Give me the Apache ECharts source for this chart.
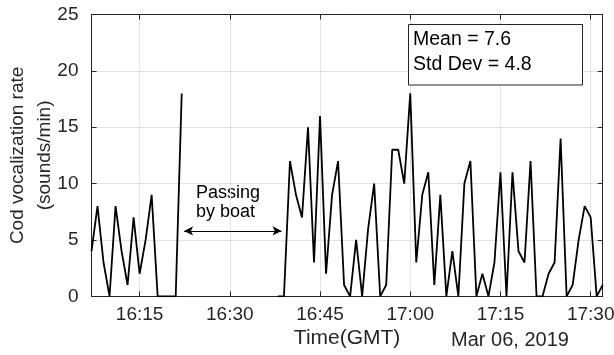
<!DOCTYPE html>
<html>
<head>
<meta charset="utf-8">
<script src="https://cdn.jsdelivr.net/npm/echarts@6/dist/echarts.min.js"></script>
<style>
  html, body { margin: 0; padding: 0; background: #ffffff; }
  #chart { width: 614px; height: 355px; }
</style>
</head>
<body>
<div id="chart"></div>
<script>
// Cod vocalization rate per minute, 6 March 2019 (GMT)
const timesBefore = ['16:07','16:08','16:09','16:10','16:11','16:12','16:13','16:14',
  '16:15','16:16','16:17','16:18','16:19','16:20','16:21','16:22'];
const ratesBefore = [4, 8, 3, 0, 8, 4, 1, 7, 2, 5, 9, 0, 0, 0, 0, 18];

const timesAfter = ['16:38','16:39','16:40','16:41','16:42','16:43','16:44','16:45',
  '16:46','16:47','16:48','16:49','16:50','16:51','16:52','16:53','16:54','16:55',
  '16:56','16:57','16:58','16:59','17:00','17:01','17:02','17:03','17:04','17:05',
  '17:06','17:07','17:08','17:09','17:10','17:11','17:12','17:13','17:14','17:15',
  '17:16','17:17','17:18','17:19','17:20','17:21','17:22','17:23','17:24','17:25',
  '17:26','17:27','17:28','17:29','17:30','17:31','17:32'];
const ratesAfter = [0, 0, 12, 9, 7, 15, 3, 16, 2, 9, 12, 1, 0, 5, 0, 6, 10, 0,
  1, 13, 13, 10, 18, 3, 9, 11, 1, 9, 0, 4, 0, 10, 12, 0, 2, 0, 3, 11,
  0, 11, 4, 3, 12, 0, 0, 2, 3, 14, 0, 1, 5, 8, 7, 0, 1];

const xTickLabels = ['16:15', '16:30', '16:45', '17:00', '17:15', '17:30'];
const yTicks = [0, 5, 10, 15, 20, 25];
const xRange = ['16:07', '17:32'];

// Period when a boat passed (no recording), shown as a double arrow
const boatSpan = ['16:22.4', '16:38.6'];
const boatLevel = 5.8;

const statsText = ['Mean = 7.6', 'Std Dev = 4.8'];
const dateText = 'Mar 06, 2019';

// "HH:MM" -> minutes after midnight
function toMin(t) {
  const p = t.split(':');
  return parseInt(p[0], 10) * 60 + parseFloat(p[1]);
}
function fmt(m) {
  const h = Math.floor(m / 60), mm = Math.round(m - h * 60);
  return h + ':' + (mm < 10 ? '0' : '') + mm;
}

// one continuous line with a break for the missing period
const lineData = timesBefore.map((t, i) => [toMin(t), ratesBefore[i]])
  .concat([[ (toMin(timesBefore[timesBefore.length - 1]) + toMin(timesAfter[0])) / 2, null ]])
  .concat(timesAfter.map((t, i) => [toMin(t), ratesAfter[i]]));

const xTickVals = xTickLabels.map(toMin);
const FONT = '"Liberation Sans", Arial, Helvetica, sans-serif';
const INK = '#262626';
const GRID = '#e3e3e3';

const chart = echarts.init(document.getElementById('chart'), null, { renderer: 'canvas' });

const xCommon = {
  type: 'value',
  min: toMin(xRange[0]),
  max: toMin(xRange[1]),
  axisLine: { show: true, onZero: false, lineStyle: { color: INK, width: 1 } },
};

chart.setOption({
  animation: false,
  backgroundColor: '#ffffff',
  grid: { left: 91.5, right: 11.3, top: 14.5, bottom: 58.7, containLabel: false, outerBoundsMode: 'none' },
  xAxis: [
    Object.assign({}, xCommon, {
      position: 'bottom',
      name: 'Time(GMT)',
      nameLocation: 'middle',
      nameGap: 31,
      nameMoveOverlap: false,
      nameTextStyle: { fontFamily: FONT, fontSize: 21, color: INK },
      axisTick: { show: true, inside: true, length: 5, customValues: xTickVals, lineStyle: { color: INK } },
      axisLabel: { customValues: xTickVals, formatter: v => fmt(v), fontFamily: FONT, fontSize: 19, color: INK, margin: 9 },
      splitLine: { show: true, lineStyle: { color: GRID, width: 1 } }
    }),
    Object.assign({}, xCommon, {
      position: 'top',
      axisTick: { show: true, inside: true, length: 5, customValues: xTickVals, lineStyle: { color: INK } },
      axisLabel: { show: false },
      splitLine: { show: false }
    })
  ],
  yAxis: [
    {
      type: 'value', min: yTicks[0], max: yTicks[yTicks.length - 1], interval: 5,
      position: 'left',
      name: 'Cod vocalization rate\n(sounds/min)',
      nameLocation: 'middle',
      nameRotate: 90,
      nameGap: 33,
      nameMoveOverlap: false,
      nameTextStyle: { fontFamily: FONT, fontSize: 19, color: INK, lineHeight: 27, align: 'center' },
      axisLine: { show: true, lineStyle: { color: INK, width: 1 } },
      axisTick: { show: true, inside: true, length: 5, lineStyle: { color: INK } },
      axisLabel: { fontFamily: FONT, fontSize: 19, color: INK, margin: 13 },
      splitLine: { show: true, lineStyle: { color: GRID, width: 1 } }
    },
    {
      type: 'value', min: yTicks[0], max: yTicks[yTicks.length - 1], interval: 5,
      position: 'right',
      axisLine: { show: true, lineStyle: { color: INK, width: 1 } },
      axisTick: { show: true, inside: true, length: 5, lineStyle: { color: INK } },
      axisLabel: { show: false },
      splitLine: { show: false }
    }
  ],
  series: [{
    type: 'line',
    data: lineData,
    connectNulls: false,
    showSymbol: false,
    clip: true,
    lineStyle: { color: '#000000', width: 1.8 },
    markLine: {
      silent: true,
      symbol: ['arrow', 'arrow'],
      symbolSize: [7, 9],
      label: { show: false },
      lineStyle: { color: '#000000', width: 1, type: 'solid' },
      data: [[
        { coord: [toMin(boatSpan[0]), boatLevel] },
        { coord: [toMin(boatSpan[1]), boatLevel] }
      ]]
    }
  }],
  graphic: [
    {
      type: 'text', left: 196, top: 183,
      style: { text: 'Passing\nby boat', fontFamily: FONT, fontSize: 18, lineHeight: 19.5, fill: '#000000' }
    },
    {
      type: 'rect', shape: { x: 408.5, y: 24.5, width: 174, height: 60.5 },
      style: { fill: '#ffffff', stroke: INK, lineWidth: 1 }, z: 10
    },
    {
      type: 'text', left: 413, top: 27, z: 11,
      style: { text: statsText.join('\n'), fontFamily: FONT, fontSize: 19.5, lineHeight: 25, fill: '#000000' }
    },
    {
      type: 'text', x: 510, y: 340, z: 11,
      style: { text: dateText, fontFamily: FONT, fontSize: 20, fill: INK, align: 'center', verticalAlign: 'middle' }
    }
  ]
});
</script>
</body>
</html>
